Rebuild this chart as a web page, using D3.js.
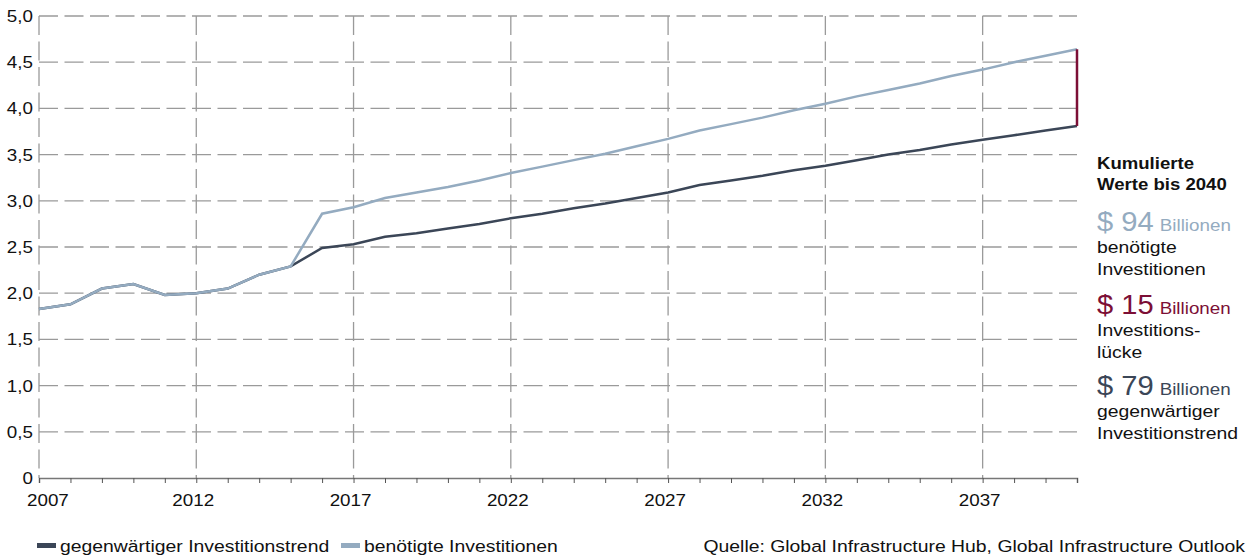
<!DOCTYPE html>
<html>
<head>
<meta charset="utf-8">
<script src="https://cdn.jsdelivr.net/npm/d3@7"></script>
<style>
  body { margin: 0; background: #fff; }
  svg text { font-family: "Liberation Sans", Arial, sans-serif; fill: #111; }
</style>
</head>
<body>
<div class="chart"></div>
<script>
const years = d3.range(2007, 2041);
// gegenwärtiger Investitionstrend (Billionen $)
const trendValues = [1.83, 1.88, 2.05, 2.10, 1.98, 2.00, 2.05, 2.20, 2.29, 2.49, 2.53,
  2.61, 2.65, 2.70, 2.75, 2.81, 2.86, 2.92, 2.97, 3.03, 3.09, 3.17, 3.22, 3.27, 3.33,
  3.38, 3.44, 3.50, 3.55, 3.61, 3.66, 3.71, 3.76, 3.81];
// benötigte Investitionen
const neededValues = [1.83, 1.88, 2.05, 2.10, 1.98, 2.00, 2.05, 2.20, 2.29, 2.86, 2.93,
  3.03, 3.09, 3.15, 3.22, 3.30, 3.37, 3.44, 3.51, 3.59, 3.67, 3.76, 3.83, 3.90, 3.98,
  4.05, 4.13, 4.20, 4.27, 4.35, 4.42, 4.50, 4.57, 4.64];
const yTicks = [0, 0.5, 1, 1.5, 2, 2.5, 3, 3.5, 4, 4.5, 5];
const xTickYears = [2007, 2012, 2017, 2022, 2027, 2032, 2037];
const seriesNames = ["gegenwärtiger Investitionstrend", "benötigte Investitionen"];
const totals = [
  { amount: "$ 94", lines: ["benötigte", "Investitionen"] },
  { amount: "$ 15", lines: ["Investitions-", "lücke"] },
  { amount: "$ 79", lines: ["gegenwärtiger", "Investitionstrend"] }
];

const dark = "#3b4657", light = "#94abc0", red = "#7c0f36", grid = "#9a9a9a";
const totalColors = [light, red, dark];
const W = 1247, H = 555;
const SX = 1.14;   // the type in the original is set quite wide

const svg = d3.select(".chart").append("svg")
  .attr("width", W).attr("height", H);

// text helper, stretched a bit horizontally
function label(x, y, str, size, anchor, sx) {
  return svg.append("text")
    .attr("transform", `translate(${x},${y}) scale(${sx || SX},1)`)
    .attr("font-size", size + "px")
    .attr("text-anchor", anchor || "start")
    .text(str);
}

const x = d3.scaleLinear().domain([2007, 2040]).range([39, 1077]);
const y = d3.scaleLinear().domain([0, 5]).range([478, 16]);

// horizontal grid
svg.append("g").selectAll("line")
  .data(yTicks.filter(d => d > 0))
  .enter().append("line")
  .attr("x1", x(2007)).attr("x2", x(2040))
  .attr("y1", d => y(d)).attr("y2", d => y(d))
  .attr("stroke", grid).attr("stroke-width", 1.3)
  .attr("stroke-dasharray", "19,6.5");

// vertical grid
svg.append("g").selectAll("line")
  .data(xTickYears)
  .enter().append("line")
  .attr("x1", d => x(d)).attr("x2", d => x(d))
  .attr("y1", y(5)).attr("y2", y(0))
  .attr("stroke", grid).attr("stroke-width", 1.3)
  .attr("stroke-dasharray", "19,6.5");

// y labels
yTicks.forEach(d => {
  label(33, y(d) + 6, d === 0 ? "0" : d3.format(".1f")(d).replace(".", ","), 16.5, "end");
});

// x axis
const xAxis = d3.axisBottom(x)
  .tickValues(years)
  .tickSize(5)
  .tickFormat("");
const gx = svg.append("g")
  .attr("transform", `translate(0,${y(0)})`)
  .call(xAxis);
gx.select(".domain").attr("stroke", "#777").attr("stroke-width", 1.5);
gx.selectAll(".tick line").attr("stroke", "#555");

xTickYears.forEach(d => {
  if (d === 2007) label(27, 506, d, 16.5, "start");
  else label(x(d) - 3, 506, d, 16.5, "middle");
});

// lines
const line = d3.line()
  .x((d, i) => x(years[i]))
  .y(d => y(d));

svg.append("path")
  .datum(trendValues)
  .attr("d", line)
  .attr("fill", "none").attr("stroke", dark).attr("stroke-width", 2.5);

svg.append("path")
  .datum(neededValues)
  .attr("d", line)
  .attr("fill", "none").attr("stroke", light).attr("stroke-width", 2.5);

// gap marker
const last = years.length - 1;
svg.append("line")
  .attr("x1", x(2040)).attr("x2", x(2040))
  .attr("y1", y(neededValues[last])).attr("y2", y(trendValues[last]))
  .attr("stroke", red).attr("stroke-width", 2.5);

// annotation on the right
const ax = 1097;
label(ax, 169, "Kumulierte", 16.3).attr("font-weight", "bold");
label(ax, 190, "Werte bis 2040", 16.3).attr("font-weight", "bold");

const blockY = [231, 314, 395];
totals.forEach((t, i) => {
  const amt = label(ax, blockY[i], t.amount, 28, "start", 1.04)
    .style("fill", totalColors[i]);
  const w = amt.node().getBBox().width * 1.04;
  label(ax + w + 6, blockY[i], "Billionen", 16.5).style("fill", totalColors[i]);
  t.lines.forEach((l, j) => {
    label(ax, blockY[i] + 22 + j * 21.5, l, 17);
  });
});

// legend
const legendX = [37, 341];
seriesNames.forEach((s, i) => {
  svg.append("rect")
    .attr("x", legendX[i]).attr("y", 543)
    .attr("width", 19).attr("height", 5)
    .attr("fill", i === 0 ? dark : light);
  label(legendX[i] + 23, 552, s, 17);
});

label(1245, 552, "Quelle: Global Infrastructure Hub, Global Infrastructure Outlook", 17, "end");
</script>
</body>
</html>
